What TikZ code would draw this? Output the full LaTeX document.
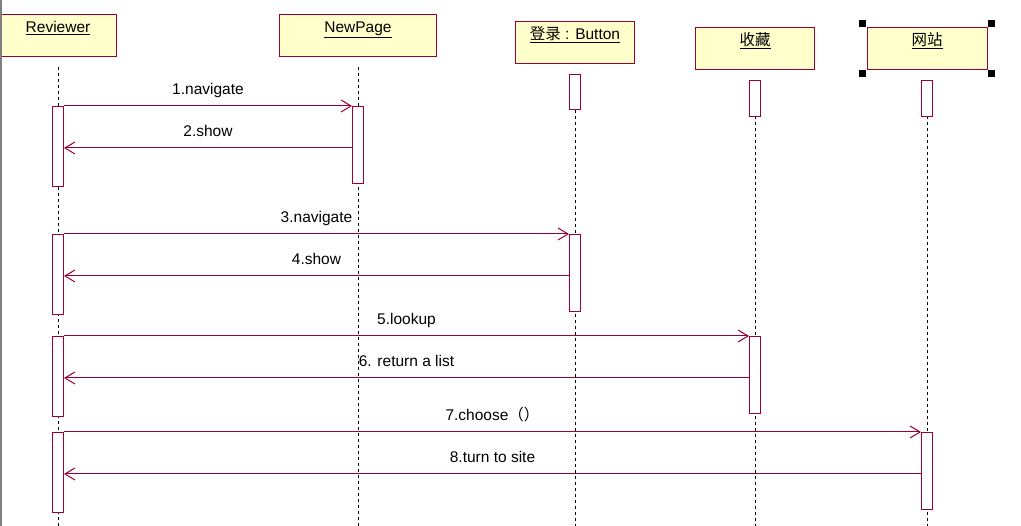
\documentclass[tikz,border=0pt]{standalone}
\usepackage{fontspec}
\setmainfont{Liberation Sans}
\newfontfamily\cjk{Noto Sans CJK SC}
\usetikzlibrary{arrows.meta}
\definecolor{umlred}{HTML}{990033}
\definecolor{umlfill}{HTML}{FFFFCC}

\begin{document}
\begin{tikzpicture}[x=1pt,y=-1pt,
  obj/.style={draw=umlred, fill=umlfill, line width=1pt, minimum height=42pt, anchor=north, inner ysep=4pt, text height=14pt, text depth=20pt, font=\fontsize{15.5}{17}\selectfont},
  act/.style={draw=umlred, fill=white, line width=1pt, minimum width=11pt, inner sep=0pt, anchor=north},
  life/.style={draw, dash pattern=on 3pt off 3pt, line width=0.7pt},
  msg/.style={draw=umlred, line width=1pt, -{Straight Barb[length=10pt,width=12pt]}},
  txt/.style={midway, above=8pt, inner sep=0pt, text height=11pt, text depth=3pt, font=\fontsize{15.5}{17}\selectfont},
  handle/.style={fill=black, minimum size=7pt, inner sep=0pt}]
\useasboundingbox (0,0) rectangle (1021,526);
\coordinate (bot) at (0,526);

% objects
\node[obj, minimum width=116pt] (rev) at (58,14) {\underline{Reviewer}};
\node[obj, minimum width=157pt] (page) at (358,14) {\underline{NewPage}};
\node[obj, minimum width=119pt] (btn) at (575,21) {\underline{{\cjk 登录} : Button}};
\node[obj, minimum width=119pt] (fav) at (755,27) {\underline{\cjk 收藏}};
\node[obj, minimum width=120pt] (site) at (927,27) {\underline{\cjk 网站}};

\node[handle, anchor=south east] (h1) at (site.north west) {};
\node[handle, anchor=south west] (h2) at (site.north east) {};
\node[handle, anchor=north east] (h3) at (site.south west) {};
\node[handle, anchor=north west] (h4) at (site.south east) {};

% lifelines
\foreach \o in {rev,page,btn,fav,site}
  \path[life] ([yshift=-10pt]\o.south) -- (\o.south |- bot);

% activations
\node[act, minimum height=80pt] (r1) at (58,106) {};
\node[act, minimum height=77pt] (p1) at (358,106) {};
\node[act, minimum height=35pt] (b0) at (575,74) {};
\node[act, minimum height=36pt] (f0) at (755,80) {};
\node[act, minimum height=36pt] (s0) at (927,80) {};
\node[act, minimum height=80pt] (r2) at (58,234) {};
\node[act, minimum height=77pt] (b1) at (575,234) {};
\node[act, minimum height=80pt] (r3) at (58,336) {};
\node[act, minimum height=77pt] (f1) at (755,336) {};
\node[act, minimum height=80pt] (r4) at (58,432) {};
\node[act, minimum height=77pt] (s1) at (927,432) {};

% messages
\path[msg] (r1.north east) -- node[txt] {1.navigate} (p1.north west);
\path[msg] ([yshift=-42pt]p1.north west) -- node[txt] {2.show} ([yshift=-42pt]r1.north east);
\path[msg] (r2.north east) -- node[txt] {3.navigate} (b1.north west);
\path[msg] ([yshift=-42pt]b1.north west) -- node[txt] {4.show} ([yshift=-42pt]r2.north east);
\path[msg] (r3.north east) -- node[txt] {5.lookup} (f1.north west);
\path[msg] ([yshift=-42pt]f1.north west) -- node[txt] {6. return a list} ([yshift=-42pt]r3.north east);
\path[msg] (r4.north east) -- node[txt] {7.choose{\cjk （）}} (s1.north west);
\path[msg] ([yshift=-42pt]s1.north west) -- node[txt] {8.turn to site} ([yshift=-42pt]r4.north east);

\draw[gray, line width=1.5pt] (0.75,0) -- (0.75,526);
\end{tikzpicture}
\end{document}
